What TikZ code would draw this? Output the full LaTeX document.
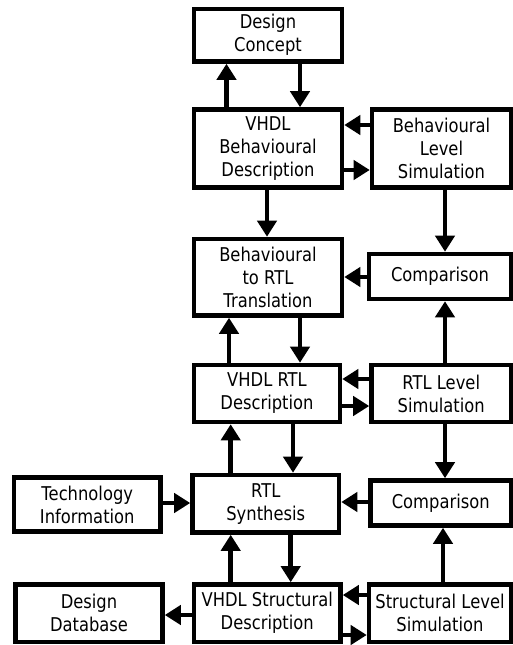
\documentclass[tikz,border=0pt]{standalone}
\usepackage{fontspec}
\setmainfont[FakeStretch=0.86]{DejaVu Sans}
\usetikzlibrary{arrows.meta}

% box given by the corners of its border centre line, in pixel units
\newcommand\flowbox[6]{%
  \node[box, minimum width={(#4-#2)*0.75pt}, minimum height={(#5-#3)*0.75pt}]
    (#1) at ({(#2+#4)/2},{(#3+#5)/2}) {#6};}

\begin{document}
\begin{tikzpicture}[x=0.75pt,y=-0.75pt,
  box/.style={draw, line width=3.4pt, fill=white, align=center, inner sep=0pt,
    font=\fontsize{14.25pt}{17.25pt}\selectfont},
  arr/.style={line width=3.4pt, -{Triangle[length=12pt,width=14.25pt]}}]

\fill[white] (0,0) rectangle (512,645);
\useasboundingbox (0,0) rectangle (512,645);

% boxes
\flowbox{b1}{194}{9}{342}{61.5}{Design\\Concept}
\flowbox{b2}{194}{109.5}{342}{187.5}{VHDL\\Behavioural\\Description}
\flowbox{b3}{372}{109.5}{511}{187.5}{Behavioural\\Level\\Simulation}
\flowbox{b4}{194}{239}{342}{315.5}{Behavioural\\to RTL\\Translation}
\flowbox{b5}{369}{254}{511}{299}{Comparison}
\flowbox{b6}{194}{365}{340}{422}{VHDL RTL\\Description}
\flowbox{b7}{371.5}{365}{511}{422}{RTL Level\\Simulation}
\flowbox{b8}{192.5}{475}{339}{532.5}{RTL\\Synthesis}
\flowbox{b9}{14}{477.5}{160.5}{531.5}{Technology\\Information}
\flowbox{b10}{370.5}{480.5}{511}{525.5}{Comparison}
\flowbox{b11}{15.5}{584.5}{162.5}{642}{Design\\Database}
\flowbox{b12}{194}{584.5}{340.5}{642}{VHDL Structural\\Description}
\flowbox{b13}{369}{584.5}{511}{642}{Structural Level\\Simulation}

% connectors
\draw[arr] (b2.north -| 226.5,0) -- (b1.south -| 226.5,0);
\draw[arr] (b1.south -| 300,0) -- (b2.north -| 300,0);
\draw[arr] (b3.west |- 0,125) -- (b2.east |- 0,125);
\draw[arr] (b2.east |- 0,170) -- (b3.west |- 0,170);
\draw[arr] (b2.south -| 267,0) -- (b4.north -| 267,0);
\draw[arr] (b3.south -| 445,0) -- (b5.north -| 445,0);
\draw[arr] (b5.west |- 0,277) -- (b4.east |- 0,277);
\draw[arr] (b6.north -| 229,0) -- (b4.south -| 229,0);
\draw[arr] (b4.south -| 300,0) -- (b6.north -| 300,0);
\draw[arr] (b7.north -| 445,0) -- (b5.south -| 445,0);
\draw[arr] (b7.west |- 0,379) -- (b6.east |- 0,379);
\draw[arr] (b6.east |- 0,406) -- (b7.west |- 0,406);
\draw[arr] (b8.north -| 230.7,0) -- (b6.south -| 230.7,0);
\draw[arr] (b6.south -| 293,0) -- (b8.north -| 293,0);
\draw[arr] (b7.south -| 445,0) -- (b10.north -| 445,0);
\draw[arr] (b9.east |- 0,503) -- (b8.west |- 0,503);
\draw[arr] (b10.west |- 0,502) -- (b8.east |- 0,502);
\draw[arr] (b12.north -| 230.7,0) -- (b8.south -| 230.7,0);
\draw[arr] (b8.south -| 290.7,0) -- (b12.north -| 290.7,0);
\draw[arr] (b13.north -| 443,0) -- (b10.south -| 443,0);
\draw[arr] (b12.west |- 0,615) -- (b11.east |- 0,615);
\draw[arr] (b13.west |- 0,595) -- (b12.east |- 0,595);
\draw[arr] (b12.east |- 0,635) -- (b13.west |- 0,635);
\end{tikzpicture}
\end{document}
